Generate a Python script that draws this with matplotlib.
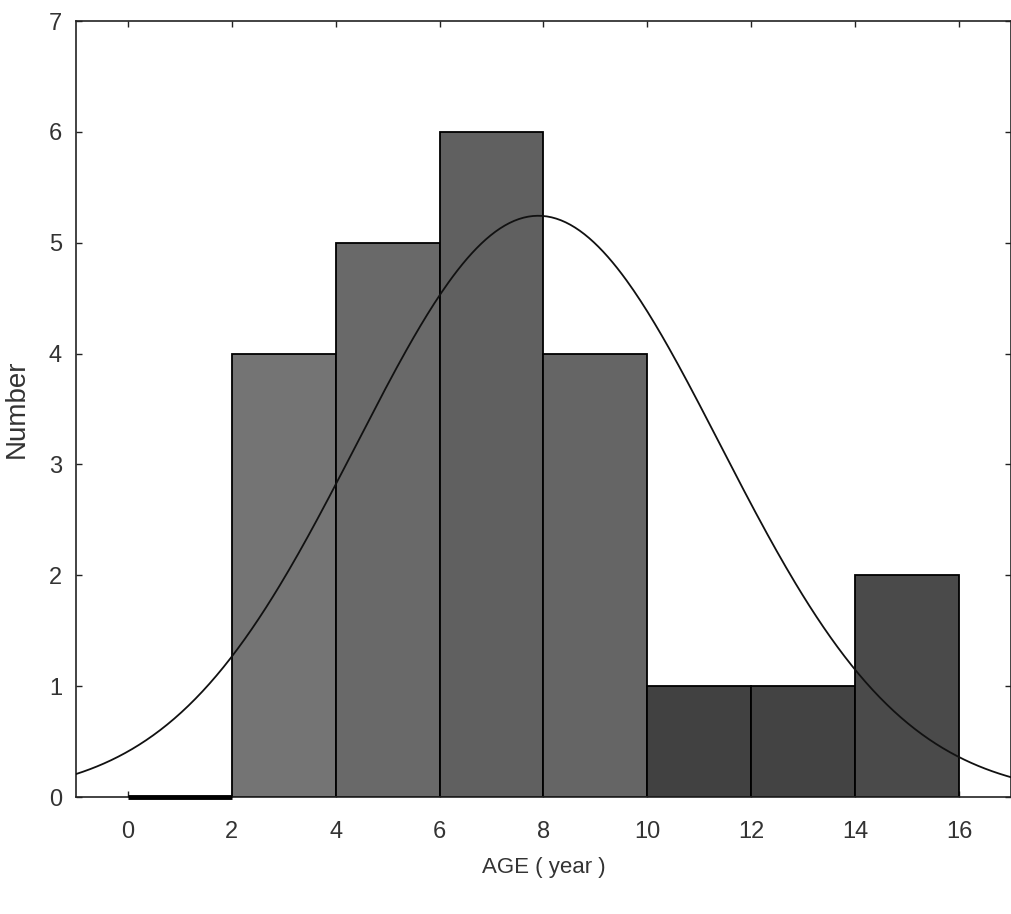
import numpy as np
import matplotlib
matplotlib.use("Agg")
import matplotlib.pyplot as plt

# ── Data ──────────────────────────────────────────────────────────────
bin_left = [0, 2, 4, 6, 8, 10, 12, 14]
counts = [0, 4, 5, 6, 4, 1, 1, 2]
bin_width = 2
bar_colors = ["#555555", "#747474", "#696969", "#606060",
              "#656565", "#414141", "#434343", "#4a4a4a"]

# fitted normal curve (mean / sd)
fit_mean = 7.9
fit_sd = 3.5
n_total = sum(counts)

x_ticks = [0, 2, 4, 6, 8, 10, 12, 14, 16]
y_ticks = [0, 1, 2, 3, 4, 5, 6, 7]

plt.rcParams["font.family"] = ["Liberation Sans", "DejaVu Sans"]

fig = plt.figure(figsize=(10.12, 9.14), dpi=100)
ax = fig.add_axes([0.075, 0.128, 0.924, 0.849])

# ── Histogram bars ────────────────────────────────────────────────────
ax.bar(bin_left, counts, width=bin_width, align="edge",
       color=bar_colors, edgecolor="black", linewidth=1.3, zorder=2)
# empty first bin is drawn as a thick line on the baseline
ax.plot([bin_left[0], bin_left[0] + bin_width], [0, 0],
        color="black", linewidth=3.5, zorder=3, solid_capstyle="butt",
        clip_on=False)

# ── Normal curve ──────────────────────────────────────────────────────
xs = np.linspace(-1, 17, 400)
ys = n_total * bin_width / (fit_sd * np.sqrt(2 * np.pi)) * \
    np.exp(-0.5 * ((xs - fit_mean) / fit_sd) ** 2)
ax.plot(xs, ys, color="#111111", linewidth=1.3, zorder=4)

ax.set_xlim(-1, 17)
ax.set_ylim(0, 7)
ax.set_xticks(x_ticks)
ax.set_yticks(y_ticks)
ax.tick_params(direction="in", length=4, width=1, top=True, right=True,
               labelsize=17, labelcolor="#333333", colors="#222222")
ax.tick_params(axis="x", pad=17)
ax.tick_params(axis="y", pad=10)
for s in ax.spines.values():
    s.set_linewidth(1.2)
    s.set_color("#222222")

ax.set_xlabel("AGE ( year )", fontsize=16, color="#333333")
ax.set_ylabel("Number", fontsize=20, color="#333333")
ax.xaxis.set_label_coords(0.5, -0.077)
ax.yaxis.set_label_coords(-0.049, 0.5)

plt.savefig("out.png", dpi=100)
